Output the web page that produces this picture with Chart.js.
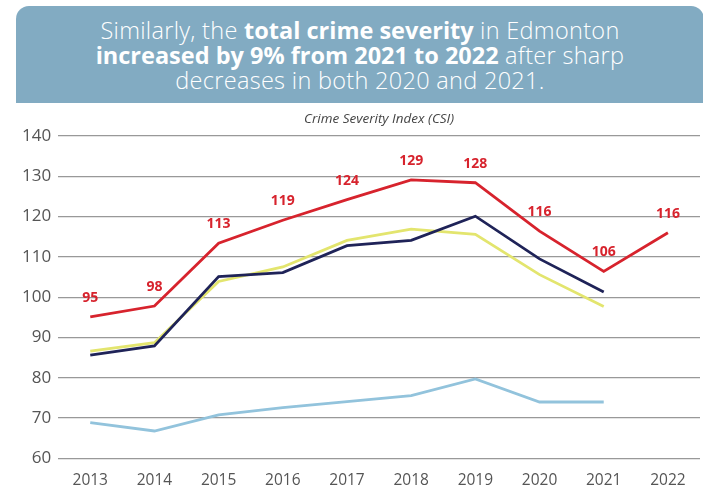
<!DOCTYPE html>
<html>
<head>
<meta charset="utf-8">
<script src="https://cdn.jsdelivr.net/npm/chart.js@4"></script>
<style>
  html, body { margin: 0; padding: 0; background: #fff; }
  body { width: 703px; height: 489px; position: relative; overflow: hidden; font-family: "Open Sans", sans-serif; }
  #banner {
    position: absolute; left: 16px; top: 6px; width: 688px; height: 97px;
    background: #82abc2; border-radius: 13px 13px 0 0;
    color: #fff; text-align: center; font-size: 23.5px; line-height: 25px;
    font-weight: 300; box-sizing: border-box; padding-top: 12px; letter-spacing: 0.3px;
  }
  #banner b { font-weight: 700; letter-spacing: 0; }
  #wrap { position: absolute; left: 0; top: 106px; width: 703px; height: 389px; }
</style>
</head>
<body>
<div id="banner">Similarly, the <b>total crime severity</b> in Edmonton<br><b>increased by 9% from 2021 to 2022</b> after sharp<br>decreases in both 2020 and 2021.</div>
<div id="wrap"><canvas id="csiChart"></canvas></div>
<script>
const years = ['2013', '2014', '2015', '2016', '2017', '2018', '2019', '2020', '2021', '2022'];
const edmonton = [95.1, 97.8, 113.4, 119.1, 124.2, 129.1, 128.4, 116.4, 106.4, 116.0];
const alberta = [85.6, 87.9, 105.1, 106.1, 112.8, 114.1, 120.1, 109.5, 101.3, null];
const calgary = [86.6, 88.7, 103.9, 107.5, 114.1, 116.9, 115.6, 105.6, 97.7, null];
const canada = [68.9, 66.8, 70.8, 72.6, 74.1, 75.6, 79.7, 74.0, 74.0, null];
const yTicks = [60, 70, 80, 90, 100, 110, 120, 130, 140];
const subtitle = 'Crime Severity Index (CSI)';

// red value labels over the Edmonton line, plus the italic subtitle centred on the plot
const redLabels = {
  id: 'redLabels',
  afterDatasetsDraw(chart) {
    const c = chart.ctx;
    const area = chart.chartArea;
    const meta = chart.getDatasetMeta(0);
    c.save();
    c.fillStyle = '#d7232d';
    c.font = 'bold 14px "Open Sans"';
    c.textAlign = 'center';
    c.textBaseline = 'middle';
    meta.data.forEach(function (pt, i) {
      c.fillText(Math.round(edmonton[i]), pt.x, pt.y - 19);
    });
    c.fillStyle = '#444';
    c.font = 'italic 13.5px "Open Sans"';
    c.fillText(subtitle, (area.left + area.right) / 2, 13);
    c.restore();
  }
};

const ctx = document.getElementById('csiChart');
new Chart(ctx, {
  type: 'line',
  data: {
    labels: years,
    datasets: [
      { label: 'Edmonton', data: edmonton, borderColor: '#d7232d' },
      { label: 'Alberta', data: alberta, borderColor: '#1f2358' },
      { label: 'Calgary', data: calgary, borderColor: '#e3e56e' },
      { label: 'Canada', data: canada, borderColor: '#92c3dc' }
    ]
  },
  options: {
    maintainAspectRatio: false,
    responsive: true,
    animation: false,
    elements: {
      line: { borderWidth: 2.8, tension: 0 },
      point: { radius: 0 }
    },
    layout: { padding: { left: 15, right: 3, top: 30, bottom: 0 } },
    plugins: {
      legend: { display: false },
      tooltip: { enabled: false },
      title: { display: false }
    },
    scales: {
      x: {
        offset: true,
        grid: { display: false },
        border: { display: false },
        ticks: { color: '#555', font: { family: '"Open Sans"', size: 15.5 }, padding: 5 }
      },
      y: {
        min: 60,
        max: 140,
        afterBuildTicks(axis) { axis.ticks = yTicks.map(v => ({ value: v })); },
        grid: { color: '#999', lineWidth: 1.3, drawTicks: false },
        border: { display: false },
        ticks: { color: '#555', font: { family: '"Open Sans"', size: 17 }, padding: 7 }
      }
    }
  },
  plugins: [redLabels]
});
</script>
</body>
</html>
